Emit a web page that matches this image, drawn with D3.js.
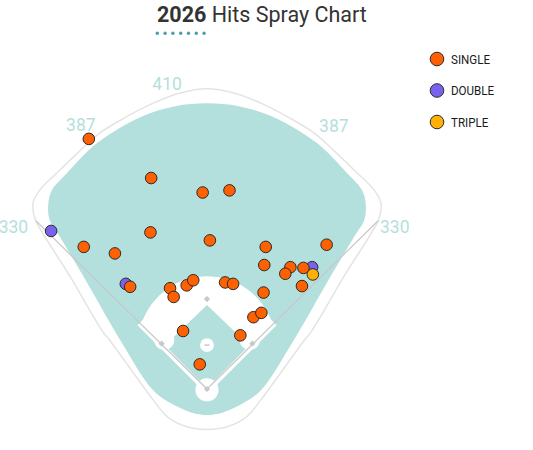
<!DOCTYPE html>
<html>
<head>
<meta charset="UTF-8">
<title>2026 Hits Spray Chart</title>
<style>
  body { margin: 0; background: #fff; }
  svg { display: block; font-family: Roboto, "Noto Sans", sans-serif; }
</style>
</head>
<body>
<div id="chart"></div>
<script src="https://d3js.org/d3.v7.min.js"></script>
<script>
// hit types and legend colours
var hitTypes = ["SINGLE", "DOUBLE", "TRIPLE"];
var hitColors = ["#ff6000", "#7b62ee", "#ffb000"];

// hits: feet from home plate (x = toward right field, y = toward center field)
var hitType = ["DOUBLE", "DOUBLE", "DOUBLE",
  "SINGLE", "SINGLE", "SINGLE", "SINGLE", "SINGLE", "SINGLE", "SINGLE", "SINGLE",
  "SINGLE", "SINGLE", "SINGLE", "SINGLE", "SINGLE", "SINGLE", "SINGLE", "SINGLE",
  "SINGLE", "SINGLE", "SINGLE", "SINGLE", "SINGLE", "SINGLE", "SINGLE", "SINGLE",
  "SINGLE", "SINGLE", "SINGLE", "SINGLE", "TRIPLE"];
var hitX = [-215, 145, -112,
  -163, -77, -6, 31, -78, -170, -127, 4,
  81, 165, 79, 115, 108, 133, 131, -106,
  -51, -46, -28, -19, 25, 36, 78, 64,
  75, -33, 46, -10, 146];
var hitY = [218, 168, 145,
  345, 291, 271, 274, 216, 196, 187, 205,
  196, 199, 171, 168, 159, 167, 142, 141,
  139, 127, 143, 150, 147, 145, 133, 99,
  105, 80, 74, 34, 158];

// fence distances and where their labels sit (feet)
var fenceLabels = ["330", "387", "410", "387", "330"];
var fenceLabelX = [-267, -174, -55, 175, 259];
var fenceLabelY = [223, 365, 421, 363, 223];

var titleYear = "2026";
var titleText = " Hits Spray Chart";

var width = 533, height = 450;
var k = 0.725; // px per foot
var homeX = 207, homeY = 389;

var xScale = d3.scaleLinear().domain([0, 100]).range([homeX, homeX + 100 * k]);
var yScale = d3.scaleLinear().domain([0, 100]).range([homeY, homeY - 100 * k]);

var svg = d3.select("#chart").append("svg")
  .attr("width", width)
  .attr("height", height);

function mirror(pts) {
  var right = pts.slice(0, pts.length - 1).reverse().map(function(p){ return [-p[0], p[1]]; });
  return pts.concat(right);
}

var line = d3.line()
  .x(function(d){ return xScale(d[0]); })
  .y(function(d){ return yScale(d[1]); })
  .curve(d3.curveCatmullRomClosed.alpha(0.5));

// stadium outline (left half, bottom to top)
var outerHalf = [[0,-56],[-28,-52],[-55,-38],[-75,-14],[-134,67],[-143,78],
  [-190,157],[-226,214],[-237,234],[-240,256],[-231,274],[-205,300],[-179,325],[-148,353],
  [-112,375],[-75,394],[-38,408],[0,414]];
// grass
var grassHalf = [[0,-36],[-20,-33],[-51,-19],[-75,-1],[-120,68],[-165,146],
  [-203,210],[-217,233],[-219,254],[-214,274],[-193,298],[-152,339],[-92,375],
  [-44,390],[0,394]];

svg.append("path")
  .attr("d", line(mirror(outerHalf)))
  .attr("fill", "#fff")
  .attr("stroke", "#e4e4e4")
  .attr("stroke-width", 1.5);

svg.append("path")
  .attr("d", line(mirror(grassHalf)))
  .attr("fill", "#b3dfdc");

// infield dirt: sector between the foul lines, radius 95 ft from the mound
var moundY = 60.5, arcR = 95;
var cx = xScale(0), cy = yScale(moundY), r = arcR * k;
var ex = 90.2;
var a0 = Math.atan2(yScale(ex) - cy, xScale(-ex) - cx);
var a1 = Math.atan2(yScale(ex) - cy, xScale(ex) - cx);
var p = d3.path();
p.moveTo(xScale(0), yScale(0));
p.lineTo(xScale(-ex), yScale(ex));
p.arc(cx, cy, r, a0, a1, false);
p.closePath();
svg.append("path").attr("d", p.toString()).attr("fill", "#fff");

// baseline dirt strips
[-1, 1].forEach(function(s){
  svg.append("line")
    .attr("x1", xScale(0)).attr("y1", yScale(0))
    .attr("x2", xScale(s * 92)).attr("y2", yScale(92))
    .attr("stroke", "#fff").attr("stroke-width", 8);
});

// infield grass
var diamond = [[0,1],[-58,60],[0,116],[58,60]];
svg.append("path")
  .attr("d", d3.line().x(function(d){ return xScale(d[0]); }).y(function(d){ return yScale(d[1]); })(diamond) + "Z")
  .attr("fill", "#b3dfdc");

// cutouts at first and third
[-1, 1].forEach(function(s){
  svg.append("circle")
    .attr("cx", xScale(s * 59)).attr("cy", yScale(68))
    .attr("r", 14 * k).attr("fill", "#fff");
});

// home plate circle and mound
svg.append("circle").attr("cx", xScale(0)).attr("cy", yScale(-1)).attr("r", 16 * k).attr("fill", "#fff");
svg.append("circle").attr("cx", xScale(0)).attr("cy", yScale(moundY)).attr("r", 9.5 * k).attr("fill", "#fff");
svg.append("line")
  .attr("x1", xScale(-3.5)).attr("x2", xScale(3.5))
  .attr("y1", yScale(moundY)).attr("y2", yScale(moundY))
  .attr("stroke", "#c8c8c8").attr("stroke-width", 1.5);

// foul lines
[-1, 1].forEach(function(s){
  svg.append("line")
    .attr("x1", xScale(0)).attr("y1", yScale(0))
    .attr("x2", xScale(s * 236)).attr("y2", yScale(232))
    .attr("stroke", "#c8c8c8").attr("stroke-width", 1.2);
});

// bases
var baseX = [0, 62.5, 0, -62.5];
var baseY = [0, 62.5, 124, 62.5];
svg.selectAll(".base")
  .data(baseX)
  .enter()
  .append("rect")
  .attr("class", "base")
  .attr("x", -2.2).attr("y", -2.2)
  .attr("width", 4.4).attr("height", 4.4)
  .attr("transform", function(d, i){
    return "translate(" + xScale(d) + "," + yScale(baseY[i]) + ") rotate(45)";
  })
  .attr("fill", "#c8c8c8");

// fence labels
svg.selectAll(".dist")
  .data(fenceLabels)
  .enter()
  .append("text")
  .attr("class", "dist")
  .attr("x", function(d, i){ return xScale(fenceLabelX[i]); })
  .attr("y", function(d, i){ return yScale(fenceLabelY[i]); })
  .attr("dy", "0.35em")
  .attr("text-anchor", "middle")
  .attr("font-size", 17.5)
  .attr("fill", "#b5dfdc")
  .text(function(d){ return d; });

// hits
var color = d3.scaleOrdinal().domain(hitTypes).range(hitColors);
svg.selectAll(".hit")
  .data(hitType)
  .enter()
  .append("circle")
  .attr("class", "hit")
  .attr("cx", function(d, i){ return xScale(hitX[i]); })
  .attr("cy", function(d, i){ return yScale(hitY[i]); })
  .attr("r", 5.8)
  .attr("fill", function(d){ return color(d); })
  .attr("stroke", "#2a2a2a")
  .attr("stroke-width", 1);

// title
var title = svg.append("text")
  .attr("x", 157).attr("y", 22)
  .attr("font-size", 21.5)
  .attr("fill", "#333");
title.append("tspan").attr("font-weight", "bold").text(titleYear);
title.append("tspan").text(titleText);

svg.selectAll(".tdot")
  .data(d3.range(7))
  .enter()
  .append("circle")
  .attr("class", "tdot")
  .attr("cx", function(d){ return 157.3 + d * 7.8; })
  .attr("cy", 33.3)
  .attr("r", 1.7)
  .attr("fill", "#4a9fab");

// legend
var legend = svg.selectAll(".leg")
  .data(hitTypes)
  .enter()
  .append("g")
  .attr("class", "leg")
  .attr("transform", function(d, i){ return "translate(437," + (59 + i * 31.5) + ")"; });
legend.append("circle")
  .attr("r", 6.8)
  .attr("fill", function(d){ return color(d); })
  .attr("stroke", "#2a2a2a")
  .attr("stroke-width", 1);
legend.append("text")
  .attr("transform", "translate(14,0) scale(0.86,1)")
  .attr("dy", "0.36em")
  .attr("font-size", 13.5)
  .attr("fill", "#1a1a1a")
  .text(function(d){ return d; });
</script>
</body>
</html>
